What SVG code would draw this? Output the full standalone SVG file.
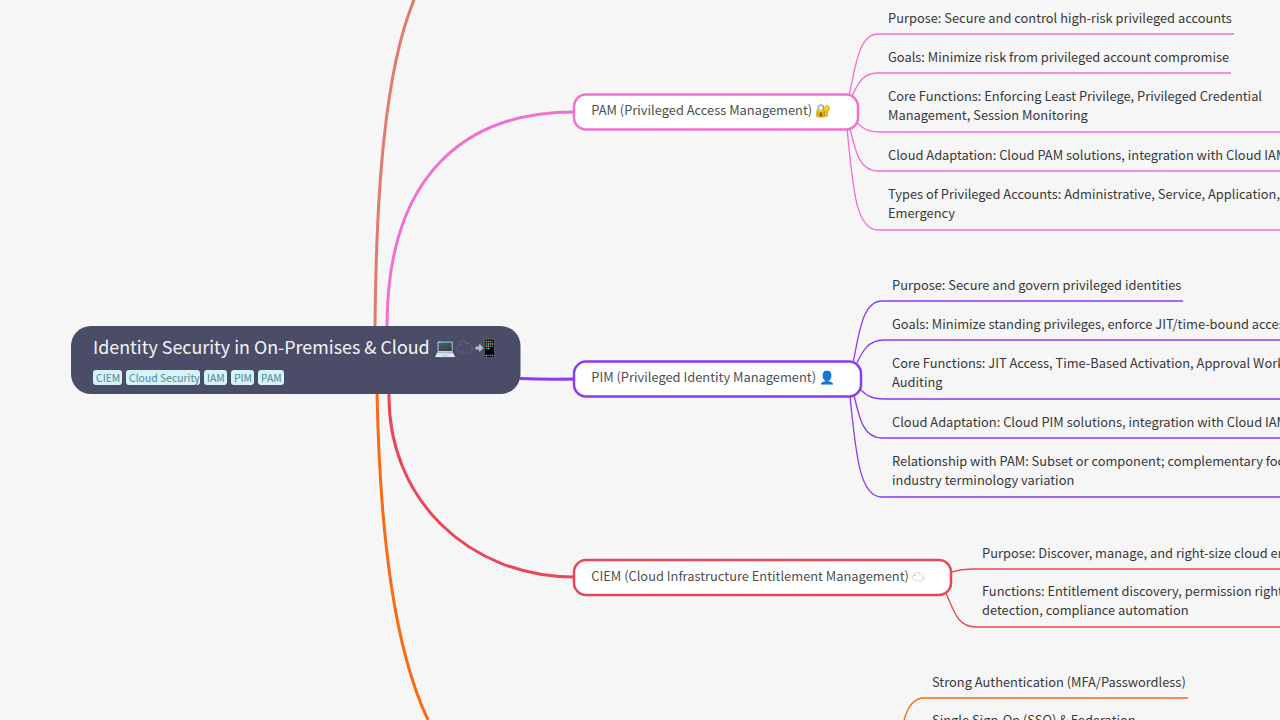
<svg xmlns="http://www.w3.org/2000/svg" width="1280" height="720" viewBox="0 0 1280 720">
<style>
text{font-family:"Noto Sans CJK SC","Noto Sans",sans-serif;fill:#383838;font-size:12.870px}
.c{fill:none}
.n{fill:#fff;stroke-width:2.500}
.nt{fill:#4f4f4f}
.tag{fill:#d6f4f7;}
.tt{font-size:10.400px;fill:#4a8898}
</style>
<rect width="1280" height="720" fill="#f6f6f6"/>
<g id="connectors">
<path class="c" stroke="#e07a6e" stroke-width="3" d="M375 330C376 190 385 70 414 0"/>
<path class="c" stroke="#ee72d2" stroke-width="3" d="M387 330C386 170 470 112 574 112"/>
<path class="c" stroke="#8a3cf0" stroke-width="3" d="M520 378.500Q545 379.500 574 379"/>
<path class="c" stroke="#e8475a" stroke-width="3" d="M389 392C387 500 470 577 574 577"/>
<path class="c" stroke="#f96a14" stroke-width="3" d="M377 392C380 540 395 650 428 720"/>
<g stroke="#ee72d2" stroke-width="1.300" fill="none">
<path d="M849 96C855 70 858 34 878 34H1234"/>
<path d="M852 96C858 84 862 73 878 73H1231"/>
<path d="M856 122C862 127 866 132 880 132H1280"/>
<path d="M850 128C855 150 859 171 878 171H1280"/>
<path d="M847 128C853 190 856 230 878 230H1280"/>
</g>
<g stroke="#8a3cf0" stroke-width="1.300" fill="none">
<path d="M853 363C859 335 862 301 882 301H1183"/>
<path d="M857 363C862 352 868 340 884 340H1280"/>
<path d="M860 389C865 394 870 399 884 399H1280"/>
<path d="M854 395C859 417 863 438 882 438H1280"/>
<path d="M850 396C856 457 860 497 882 497H1280"/>
</g>
<g stroke="#e8475a" stroke-width="1.300" fill="none">
<path d="M951 572C958 570 962 569 972 569H1280"/>
<path d="M946 593C954 612 958 627 976 627H1280"/>
</g>
<g stroke="#f96a14" stroke-width="1.300" fill="none">
<path d="M904 720C908 706 914 698 924 698H1188"/>
</g>
</g>
<g id="root">
<rect x="71" y="326" width="449.500" height="68" rx="20" fill="#4b4d68"/>
<text x="93" y="354" style="font-size:17.860px;fill:#f4f4f6">Identity Security in On-Premises &amp; Cloud 💻<tspan fill="#6c6e84">☁</tspan>📲</text>
<rect class="tag" x="93" y="370" width="29" height="15" rx="3"/><text class="tt" x="96" y="381.500">CIEM</text>
<rect class="tag" x="126" y="370" width="74" height="15" rx="3"/><text class="tt" x="129" y="381.500">Cloud Security</text>
<rect class="tag" x="204" y="370" width="23" height="15" rx="3"/><text class="tt" x="207" y="381.500">IAM</text>
<rect class="tag" x="231" y="370" width="23" height="15" rx="3"/><text class="tt" x="234" y="381.500">PIM</text>
<rect class="tag" x="258" y="370" width="26" height="15" rx="3"/><text class="tt" x="261" y="381.500">PAM</text>
</g>
<g id="pam"><rect class="n" stroke="#ee72d2" x="574" y="94.500" width="284" height="35" rx="12"/><text class="nt" x="591.300" y="115">PAM (Privileged Access Management) 🔐</text></g>
<g id="pim"><rect class="n" stroke="#8a3cf0" x="574" y="361.500" width="287" height="35" rx="12"/><text class="nt" x="591.300" y="382">PIM (Privileged Identity Management) 👤</text></g>
<g id="ciem"><rect class="n" stroke="#e8475a" x="574" y="560" width="377" height="35" rx="12"/><text class="nt" x="591.300" y="581">CIEM (Cloud Infrastructure Entitlement Management) <tspan fill="#999">☁</tspan></text></g>
<g id="pam-leaves">
<text x="888" y="23">Purpose: Secure and control high-risk privileged accounts</text>
<text x="888" y="62">Goals: Minimize risk from privileged account compromise</text>
<text x="888" y="101">Core Functions: Enforcing Least Privilege, Privileged Credential</text>
<text x="888" y="120">Management, Session Monitoring</text>
<text x="888" y="160">Cloud Adaptation: Cloud PAM solutions, integration with Cloud IAM</text>
<text x="888" y="199">Types of Privileged Accounts: Administrative, Service, Application,</text>
<text x="888" y="218">Emergency</text>
</g>
<g id="pim-leaves">
<text x="892" y="290">Purpose: Secure and govern privileged identities</text>
<text x="892" y="329">Goals: Minimize standing privileges, enforce JIT/time-bound access</text>
<text x="892" y="368">Core Functions: JIT Access, Time-Based Activation, Approval Workflows,</text>
<text x="892" y="387">Auditing</text>
<text x="892" y="427">Cloud Adaptation: Cloud PIM solutions, integration with Cloud IAM</text>
<text x="892" y="466">Relationship with PAM: Subset or component; complementary focus;</text>
<text x="892" y="485">industry terminology variation</text>
</g>
<g id="ciem-leaves">
<text x="982" y="558">Purpose: Discover, manage, and right-size cloud entitlements</text>
<text x="982" y="596">Functions: Entitlement discovery, permission rightsizing, anomaly</text>
<text x="982" y="615">detection, compliance automation</text>
</g>
<g id="iam-leaves">
<text x="932" y="687">Strong Authentication (MFA/Passwordless)</text>
<text x="932" y="725">Single Sign-On (SSO) &amp; Federation</text>
</g>
</svg>
